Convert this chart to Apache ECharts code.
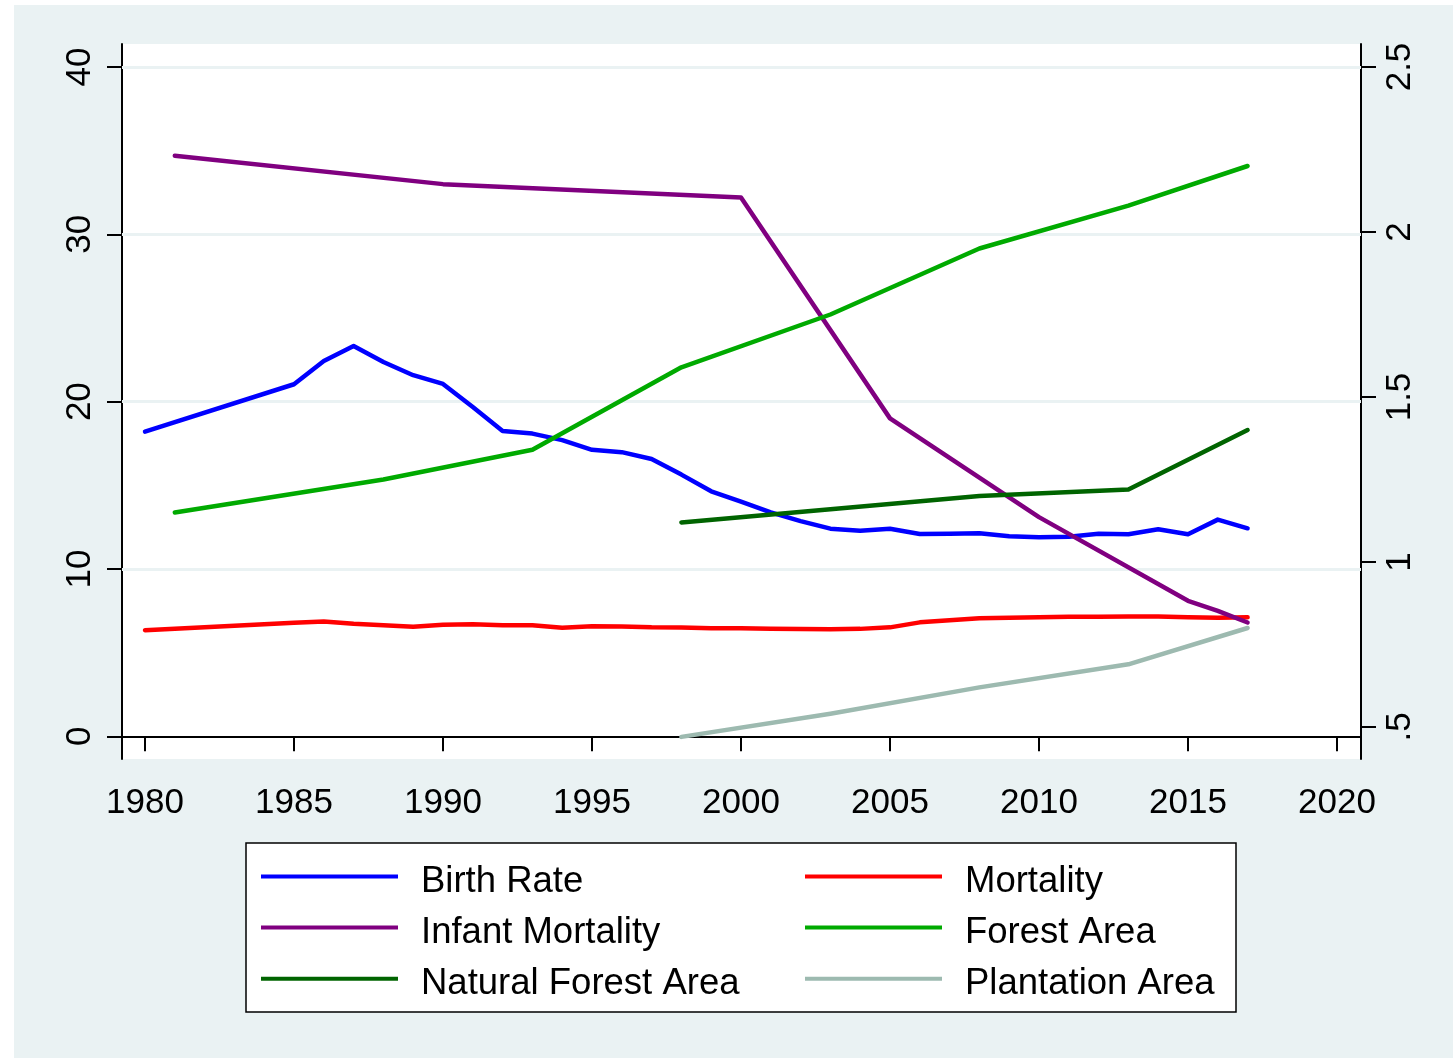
<!DOCTYPE html>
<html>
<head>
<meta charset="utf-8">
<title>Population and forest</title>
<script src="https://cdn.jsdelivr.net/npm/echarts@6/dist/echarts.min.js"></script>
<style>
  html, body { margin: 0; padding: 0; background: #fff; }
  #chart { position: absolute; left: 14px; top: 5px; width: 1439px; height: 1053px; }
</style>
</head>
<body>
<div id="chart"></div>
<script>
// annual series (1981-1984 missing)
const popYears = [1980, 1985, 1986, 1987, 1988, 1989, 1990, 1991, 1992, 1993, 1994, 1995, 1996, 1997, 1998, 1999,
  2000, 2001, 2002, 2003, 2004, 2005, 2006, 2007, 2008, 2009, 2010, 2011, 2012, 2013, 2014, 2015, 2016, 2017]
const birthRate = [18.21, 21.04, 22.43, 23.33, 22.37, 21.58, 21.06, 19.68, 18.24, 18.09, 17.70, 17.12, 16.98, 16.57, 15.64, 14.64,
  14.03, 13.38, 12.86, 12.41, 12.29, 12.40, 12.09, 12.10, 12.14, 11.95, 11.90, 11.93, 12.10, 12.08, 12.37, 12.07, 12.95, 12.43]
const mortality = [6.34, 6.78, 6.86, 6.72, 6.64, 6.54, 6.67, 6.70, 6.64, 6.64, 6.49, 6.57, 6.56, 6.51, 6.50, 6.46,
  6.45, 6.43, 6.41, 6.40, 6.42, 6.51, 6.81, 6.93, 7.06, 7.08, 7.11, 7.14, 7.15, 7.16, 7.16, 7.11, 7.09, 7.11]

const infantYears = [1981, 1990, 2000, 2005, 2010, 2015, 2016, 2017]
const infantMortality = [34.7, 33.0, 32.2, 19.0, 13.1, 8.1, 7.5, 6.8]

// forest survey years (right axis)
const forestYears = [1981, 1988, 1993, 1998, 2003, 2008, 2013, 2017]
const forestArea = [1.15, 1.25, 1.34, 1.59, 1.75, 1.95, 2.08, 2.20]
const subYears = [1998, 2003, 2008, 2013, 2017]
const naturalForest = [1.12, 1.16, 1.20, 1.22, 1.40]
const plantation = [0.47, 0.54, 0.62, 0.69, 0.80]

const xTicks = [1980, 1985, 1990, 1995, 2000, 2005, 2010, 2015, 2020]
const leftTicks = [0, 10, 20, 30, 40]
const rightTicks = [0.5, 1, 1.5, 2, 2.5]

const FONT = '"Liberation Sans", Arial, Helvetica, sans-serif'

function pairs(xs, ys) {
  return xs.map((x, i) => [x, ys[i]])
}

function lineSeries(name, color, xs, ys, axis) {
  return {
    name: name,
    type: 'line',
    yAxisIndex: axis,
    data: pairs(xs, ys),
    showSymbol: false,
    symbol: 'none',
    z: 3,
    lineStyle: { color: color, width: 4.5, cap: 'round', join: 'round' },
    itemStyle: { color: color }
  }
}

const chart = echarts.init(document.getElementById('chart'))

// the {s|} strut makes the line taller so the name sits a little below the key line
const legendCommon = {
  orient: 'vertical',
  top: 853,
  icon: 'rect',
  itemWidth: 137,
  itemHeight: 4,
  itemGap: 8.6,
  padding: 0,
  selectedMode: false,
  formatter: name => '{s|\u200b}{a|' + name + '}',
  textStyle: {
    fontFamily: FONT,
    fontSize: 36.5,
    color: '#000',
    padding: [0, 0, 0, 18],
    rich: {
      s: { fontFamily: FONT, fontSize: 36.5, lineHeight: 48 },
      a: { fontFamily: FONT, fontSize: 36.5, lineHeight: 40, color: '#000', verticalAlign: 'bottom' }
    }
  }
}

const axisLine = { show: true, lineStyle: { color: '#000', width: 2 } }

chart.setOption({
  animation: false,
  backgroundColor: '#EAF2F3',
  grid: {
    left: 108,
    top: 39,
    width: 1239,
    height: 715,
    show: true,
    backgroundColor: '#fff',
    borderWidth: 0
  },
  legend: [
    Object.assign({ left: 247, data: ['Birth Rate', 'Infant Mortality', 'Natural Forest Area'] }, legendCommon),
    Object.assign({ left: 791, data: ['Mortality', 'Forest Area', 'Plantation Area'] }, legendCommon)
  ],
  graphic: [{
    type: 'rect',
    shape: { x: 232, y: 838, width: 990, height: 169 },
    style: { fill: '#fff', stroke: '#000', lineWidth: 1.5 },
    z: -1
  }],
  xAxis: {
    type: 'value',
    min: 1979.228,
    max: 2020.806,
    axisLine: axisLine,
    splitLine: { show: false },
    axisTick: { show: true, customValues: xTicks, length: 15, lineStyle: { color: '#000', width: 2 } },
    axisLabel: {
      customValues: xTicks,
      margin: 27,
      fontFamily: FONT,
      fontSize: 35,
      color: '#000',
      formatter: v => String(v)
    }
  },
  yAxis: [{
    type: 'value',
    position: 'left',
    min: -1.357,
    max: 41.375,
    axisLine: axisLine,
    splitLine: { show: false },
    axisTick: { show: true, customValues: leftTicks, length: 15, lineStyle: { color: '#000', width: 2 } },
    axisLabel: {
      customValues: leftTicks,
      rotate: 90,
      margin: 24,
      fontFamily: FONT,
      fontSize: 35,
      color: '#000'
    }
  }, {
    type: 'value',
    position: 'right',
    min: 0.403,
    max: 2.5697,
    axisLine: axisLine,
    splitLine: { show: false },
    axisTick: { show: true, customValues: rightTicks, length: 15, lineStyle: { color: '#000', width: 2 } },
    axisLabel: {
      customValues: rightTicks,
      rotate: 90,
      margin: 22,
      fontFamily: FONT,
      fontSize: 35,
      color: '#000',
      formatter: v => (v === 0.5 ? '.5' : String(v))
    }
  }],
  series: [
    {
      // horizontal grid lines behind the data
      name: 'grid',
      type: 'line',
      data: [],
      z: 1,
      silent: true,
      markLine: {
        silent: true,
        z: 1,
        symbol: ['none', 'none'],
        label: { show: false },
        lineStyle: { color: '#EAF2F3', width: 3, type: 'solid' },
        data: [{ yAxis: 10 }, { yAxis: 20 }, { yAxis: 30 }, { yAxis: 40 }]
      }
    },
    lineSeries('Birth Rate', '#0000FF', popYears, birthRate, 0),
    lineSeries('Mortality', '#FF0000', popYears, mortality, 0),
    lineSeries('Infant Mortality', '#800080', infantYears, infantMortality, 0),
    lineSeries('Forest Area', '#00AA00', forestYears, forestArea, 1),
    lineSeries('Natural Forest Area', '#006400', subYears, naturalForest, 1),
    lineSeries('Plantation Area', '#9DBAB0', subYears, plantation, 1)
  ]
})
</script>
</body>
</html>
